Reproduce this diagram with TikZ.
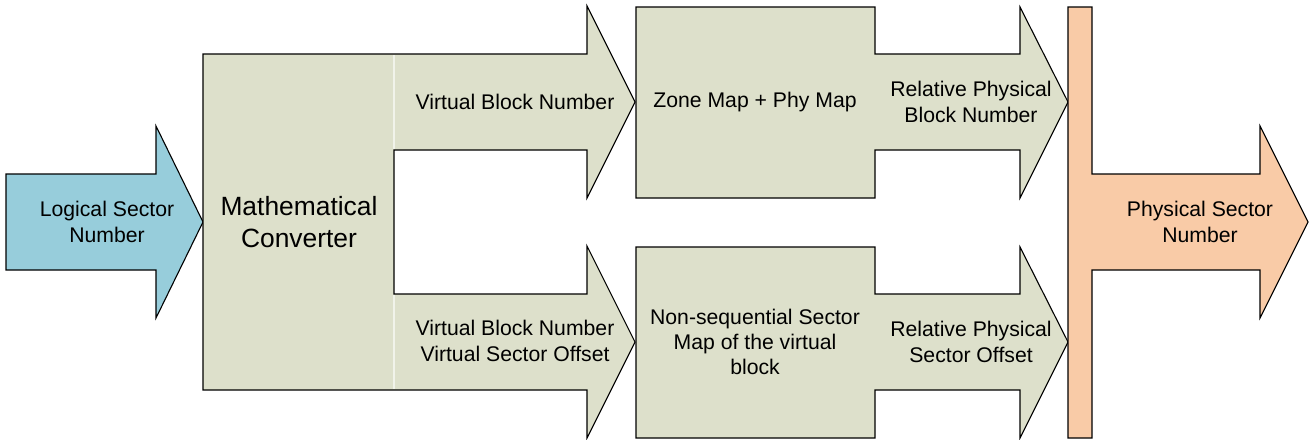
\documentclass[tikz,border=0pt]{standalone}
\usepackage{fontspec}
\setmainfont{Liberation Sans}
\usepackage{tikz}

\definecolor{boxgreen}{HTML}{DDE0CB}
\definecolor{inblue}{HTML}{97CDDB}
\definecolor{outorange}{HTML}{F9CBA7}
\tikzset{
    shapeline/.style={draw=black, line width=0.55pt, line join=miter},
    lbl/.style={align=center, inner sep=0pt, font=\fontsize{10.6pt}{12.6pt}\selectfont},
    biglbl/.style={align=center, inner sep=0pt, font=\fontsize{13.2pt}{15.6pt}\selectfont}
}

\begin{document}
\begin{tikzpicture}[x=0.5pt, y=-0.5pt]
            \useasboundingbox (0,0) rectangle (1310,439);
            % input arrow
            \draw[shapeline, fill=inblue] (6,174) -- (156,174) -- (156,126) -- (203,222) -- (156,318) -- (156,270) -- (6,270) -- cycle;
            % converter with its two outputs
            \draw[shapeline, fill=boxgreen] (203,54) -- (587,54) -- (587,6) -- (635,102) -- (587,198) -- (587,150) -- (394,150) -- (394,294) -- (587,294) -- (587,246) -- (635,342) -- (587,438) -- (587,390) -- (203,390) -- cycle;
            \draw[boxgreen!40!white, line width=0.6pt] (394,55) -- (394,149) (394,295) -- (394,389);
            % the two maps
            \draw[shapeline, fill=boxgreen] (636,7) -- (875,7) -- (875,54) -- (1020,54) -- (1020,7) -- (1068,102) -- (1020,198) -- (1020,150) -- (875,150) -- (875,198) -- (636,198) -- cycle;
            \draw[shapeline, fill=boxgreen] (636,247) -- (875,247) -- (875,294) -- (1020,294) -- (1020,247) -- (1068,342) -- (1020,438) -- (1020,390) -- (875,390) -- (875,438) -- (636,438) -- cycle;
            % output
            \draw[shapeline, fill=outorange] (1068,7) -- (1092,7) -- (1092,174) -- (1260,174) -- (1260,126) -- (1308,222) -- (1260,318) -- (1260,270) -- (1092,270) -- (1092,438) -- (1068,438) -- cycle;

            \node[lbl] (lsn) at (107,222) {Logical Sector\\Number};
            \node[biglbl] (conv) at (299,222) {Mathematical\\Converter};
            \node[lbl] (vbn) at (515,102) {Virtual Block Number};
            \node[lbl] (vso) at (515,341) {Virtual Block Number\\Virtual Sector Offset};
            \node[lbl] (zone) at (755,102) {Zone Map + Phy Map};
            \node[lbl] (nsmap) at (755,342) {Non-sequential Sector\\Map of the virtual\\block};
            \node[lbl] (rpbn) at (971,102) {Relative Physical\\Block Number};
            \node[lbl] (rpso) at (971,342) {Relative Physical\\Sector Offset};
            \node[lbl] (psn) at (1200,222) {Physical Sector\\Number};
        \end{tikzpicture}
\end{document}
